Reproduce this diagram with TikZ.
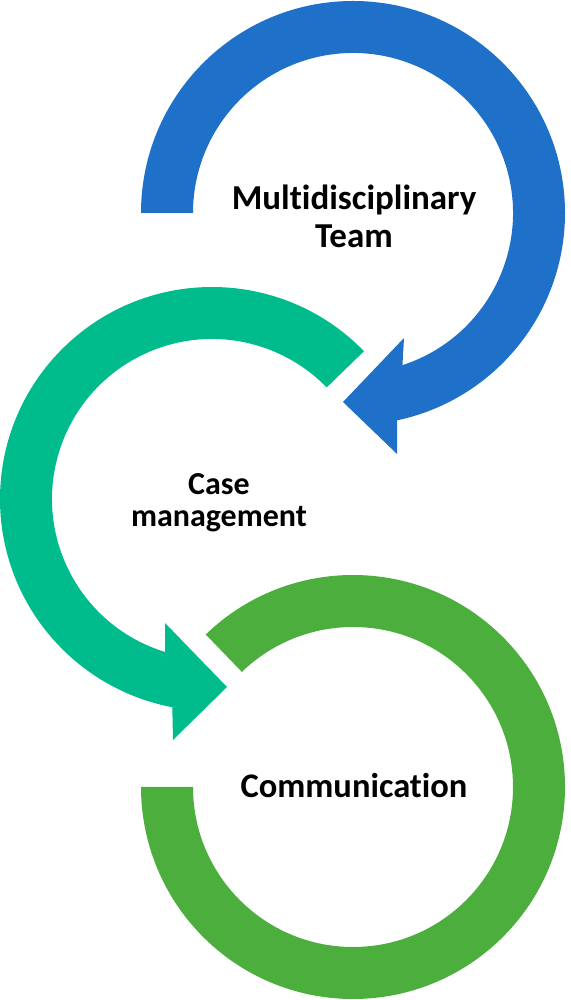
\documentclass[tikz,border=0pt]{standalone}
\usepackage{fontspec}
\setmainfont{Carlito}[Ligatures=NoCommon]
\usetikzlibrary{calc}
\definecolor{teamblue}{RGB}{30,112,200}
\definecolor{caseteal}{RGB}{0,188,140}
\definecolor{commgreen}{RGB}{76,174,60}

\begin{document}
\begin{tikzpicture}[x=1pt, y=1pt,
    cyclelabel/.style={align=center, inner sep=0pt, text=black}]
    \useasboundingbox (0,0) rectangle (570,1000);

    % Blue arrow, clockwise from the left
    \coordinate (bc) at (353,787);
    \fill[teamblue] ($(bc)+(180:212)$) arc (180:-78:212)
        -- ($(bc)+(44,-241)$) -- ($(bc)+(-10,-189)$)
        -- ($(bc)+(51,-125)$) -- ($(bc)+(-72:160)$)
        arc (-72:180:160) -- cycle;

    % Teal arrow, counterclockwise
    \coordinate (tc) at (212,501);
    \fill[caseteal] ($(tc)+(44.2:212)$) arc (44.2:259.2:212)
        -- ($(tc)+(-39,-241)$) -- ($(tc)+(15,-188)$)
        -- ($(tc)+(-47,-124)$) -- ($(tc)+(253:160)$)
        arc (253:44.2:160) -- cycle;

    % Green ring, clockwise, no head
    \coordinate (gc) at (353,213);
    \fill[commgreen] ($(gc)+(134:212)$) arc (134:-180:212)
        -- ($(gc)+(180:160)$) arc (-180:134:160) -- cycle;

    % Labels
    \node[cyclelabel, font=\fontsize{35}{38}\selectfont\bfseries] (mdt) at (354,784) {Multidisciplinary\\Team};
    \node[cyclelabel, font=\fontsize{32}{32}\selectfont\bfseries] (cm) at (219,497) {Case\\management};
    \node[cyclelabel, font=\fontsize{34.5}{38}\selectfont\bfseries] (comm) at (354,214) {Communication};
\end{tikzpicture}
\end{document}
